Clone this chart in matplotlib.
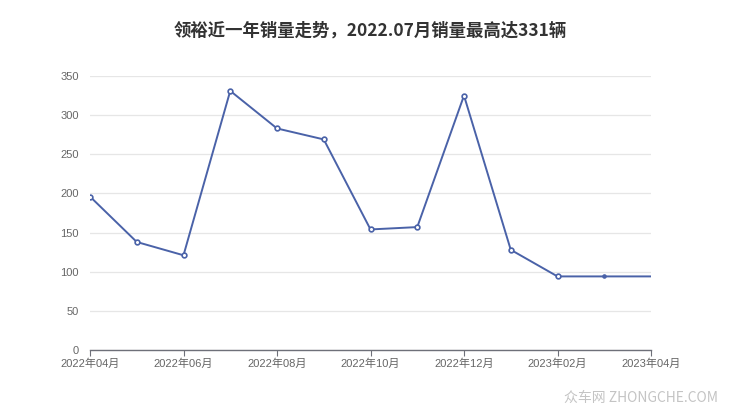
import matplotlib
matplotlib.use("Agg")
import matplotlib.pyplot as plt

plt.rcParams['font.family'] = ['Noto Sans CJK SC', 'DejaVu Sans']

months = ["2022年04月", "2022年05月", "2022年06月", "2022年07月", "2022年08月", "2022年09月",
          "2022年10月", "2022年11月", "2022年12月", "2023年01月", "2023年02月", "2023年03月", "2023年04月"]
sales = [196, 138, 121, 331, 283, 269, 154, 157, 325, 128, 94, 94, 94]
yticks = [0, 50, 100, 150, 200, 250, 300, 350]
title = "领裕近一年销量走势，2022.07月销量最高达331辆"

fig = plt.figure(figsize=(7.4, 4.17), dpi=100)
ax = fig.add_axes([90/740, 1-350/417, (651-90)/740, (350-76)/417])

x = list(range(len(sales)))
color = "#4a62a8"
ax.plot(x, sales, color=color, lw=1.4, zorder=3)
ax.plot(x[:11], sales[:11], ls='none', marker='o', ms=3.4, mfc='white', mec=color, mew=1.2, zorder=4)
ax.plot(x[11:12], sales[11:12], ls='none', marker='o', ms=2.3, color=color, zorder=4)

ax.set_xlim(0, 12)
ax.set_ylim(0, 350)
ax.set_yticks(yticks)
ax.grid(axis='y', color='#e6e6e6', lw=0.9)
ax.set_axisbelow(True)
for s in ['left', 'right', 'top']:
    ax.spines[s].set_visible(False)
ax.spines['bottom'].set_color('#6e7079')
ax.spines['bottom'].set_linewidth(1.0)
ax.set_xticks(x[::2])
ax.set_xticklabels(months[::2])
tick_family = ['Liberation Sans', 'Noto Sans CJK SC']
ax.tick_params(axis='x', colors='#6e7079', labelcolor='#666666', labelsize=8, length=4, pad=2)
ax.tick_params(axis='y', length=0, labelcolor='#666666', labelsize=8, pad=8)
for lab in ax.get_xticklabels() + ax.get_yticklabels():
    lab.set_family(tick_family)

fig.text(0.5, 1-31/417, title, ha='center', va='center', fontsize=12.5, fontweight='bold', color='#333333')
fig.text(718/740, 1-398/417, "众车网 ZHONGCHE.COM", ha='right', va='center', fontsize=10, color='#c4c4c4')

fig.savefig("out.png", dpi=100)
